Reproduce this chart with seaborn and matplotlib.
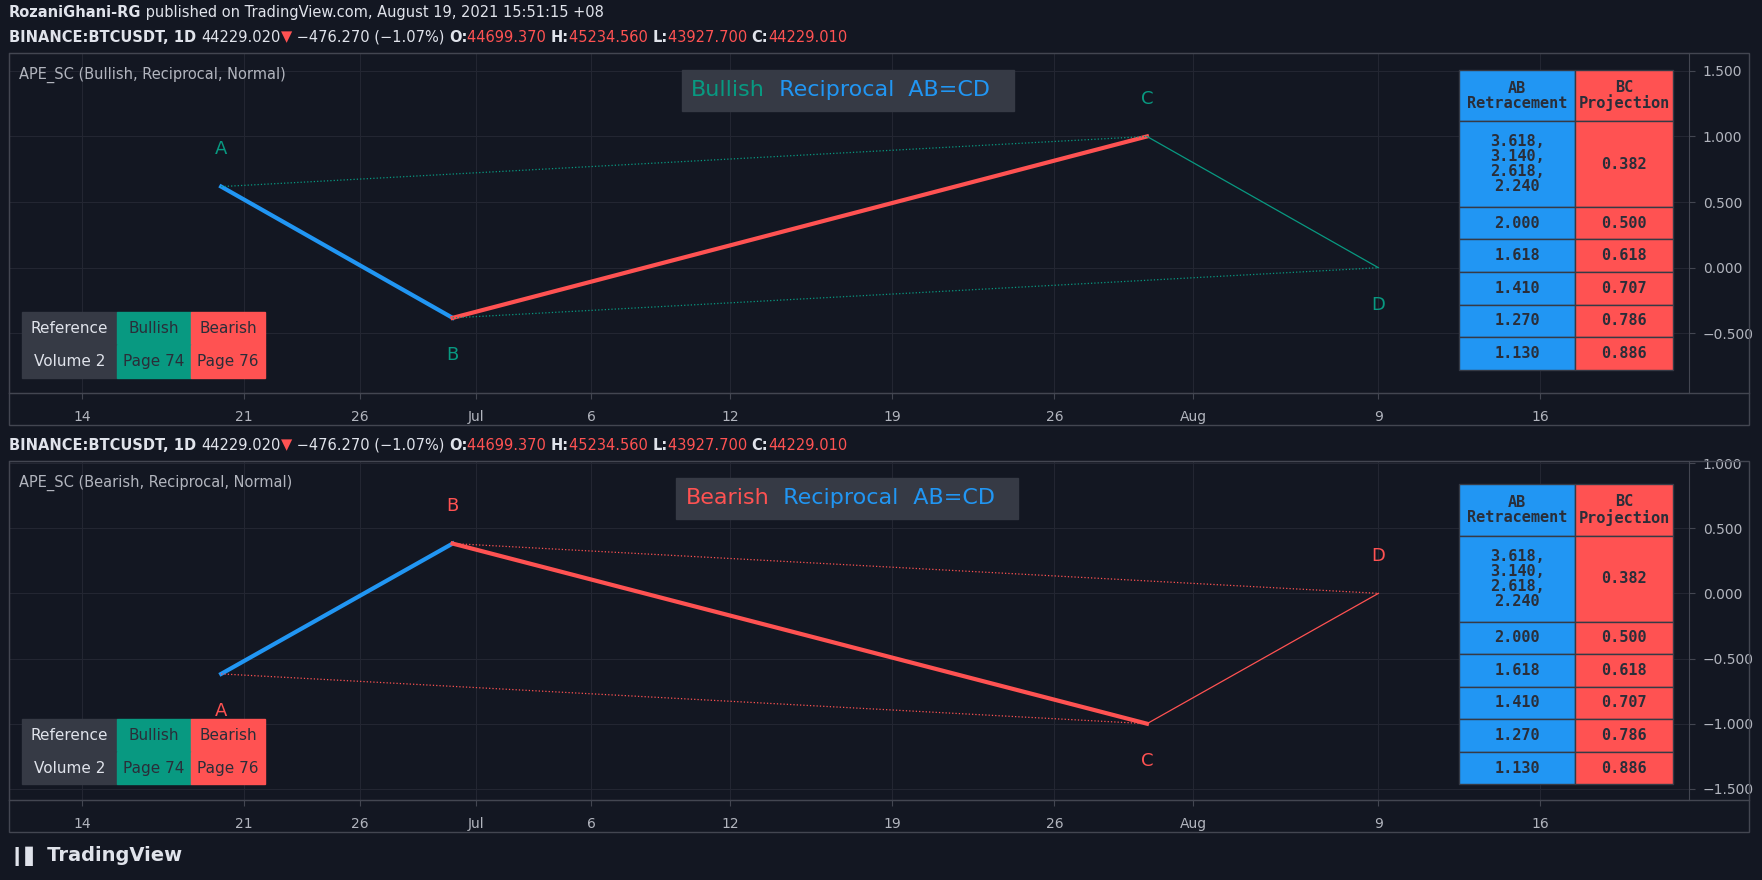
import pandas as pd
import numpy as np
import matplotlib
matplotlib.use("Agg")
import matplotlib.pyplot as plt
import seaborn as sns
from matplotlib.patches import Rectangle

# pattern points
point_names = ["A", "B", "C", "D"]
point_dates = pd.to_datetime(["2021-06-20", "2021-06-30", "2021-07-30", "2021-08-09"])
bull_values = [0.618, -0.382, 1.0, 0.0]
bear_values = [-0.618, 0.382, -1.0, 0.0]

tick_dates = pd.to_datetime(["2021-06-14", "2021-06-21", "2021-06-26", "2021-07-01", "2021-07-06",
                             "2021-07-12", "2021-07-19", "2021-07-26", "2021-08-01", "2021-08-09", "2021-08-16"])
tick_labels = ["14", "21", "26", "Jul", "6", "12", "19", "26", "Aug", "9", "16"]
top_yticks = [1.5, 1.0, 0.5, 0.0, -0.5]
bot_yticks = [1.0, 0.5, 0.0, -0.5, -1.0, -1.5]

ab_retr = ["3.618,\n3.140,\n2.618,\n2.240", "2.000", "1.618", "1.410", "1.270", "1.130"]
bc_proj = ["0.382", "0.500", "0.618", "0.707", "0.786", "0.886"]

BG = "#131722"
GRID = "#232632"
BORDER = "#434651"
TXT = "#b2b5be"
TEAL = "#089981"
BLUE = "#2196f3"
RED = "#ff5252"
GREY = "#363a45"

W, H = 1568.0, 783.0  # layout measured on the downscaled view

fig = plt.figure(figsize=(17.62, 8.8), dpi=100, facecolor=BG)
rend = fig.canvas.get_renderer()


def fx(x):
    return x / W


def fy(y):
    return 1 - y / H


def text_row(x, y, parts, size, gap=0.0):
    # draw consecutive text pieces, each starting where the previous ended
    for t, c, w in parts:
        tt = fig.text(x, y, t, color=c, fontsize=size, weight=w, va="center", zorder=6)
        x += tt.get_window_extent(renderer=rend).width / fig.bbox.width + gap


def box(x0, y0, x1, y1, color, text=None, tcolor="#2a2e39", size=11, mono=True, ec=None):
    fig.patches.append(Rectangle((fx(x0), fy(y1)), fx(x1) - fx(x0), fy(y0) - fy(y1),
                                 transform=fig.transFigure, facecolor=color,
                                 edgecolor=ec if ec else color, lw=1, zorder=5))
    if text is not None:
        fig.text(fx((x0 + x1) / 2), fy((y0 + y1) / 2), text, color=tcolor, fontsize=size,
                 ha="center", va="center", zorder=6, linespacing=1.0,
                 family="DejaVu Sans Mono" if mono else "DejaVu Sans",
                 weight="semibold" if mono else "normal")


def pane(top, bottom, ylim, yticks, values, main_col, name, table_top):
    ax = fig.add_axes([fx(8), fy(bottom - 28), fx(1503) - fx(8), fy(top) - fy(bottom - 28)])
    ax.set_facecolor(BG)
    df = pd.DataFrame({"date": point_dates, "value": values, "name": point_names})
    sns.lineplot(data=df.iloc[0:2], x="date", y="value", color=BLUE, lw=3, ax=ax)
    sns.lineplot(data=df.iloc[1:3], x="date", y="value", color=RED, lw=3, ax=ax)
    sns.lineplot(data=df.iloc[2:4], x="date", y="value", color=main_col, lw=0.9, ax=ax)
    sns.lineplot(data=df.iloc[[0, 2]], x="date", y="value", color=main_col, lw=0.9, ls=":", ax=ax)
    sns.lineplot(data=df.iloc[[1, 3]], x="date", y="value", color=main_col, lw=0.9, ls=":", ax=ax)
    span = ylim[1] - ylim[0]
    for i, r in df.iterrows():
        up = (i % 2 == 0) if values[0] > values[1] else (i % 2 == 1)
        off = 0.11 * span if up else -0.11 * span
        ax.text(r["date"], r["value"] + off, r["name"], color=main_col, fontsize=13,
                ha="center", va="center")
    ax.set_xlim(pd.Timestamp("2021-06-10 20:00"), pd.Timestamp("2021-08-22 10:00"))
    ax.set_ylim(*ylim)
    ax.set_xticks(tick_dates)
    ax.set_xticklabels(tick_labels)
    ax.set_yticks(yticks)
    ax.set_yticklabels([f"{v:.3f}".replace("-", "\u2212") for v in yticks])
    ax.yaxis.tick_right()
    ax.tick_params(colors=TXT, labelsize=10, length=4, color=BORDER)
    ax.tick_params(axis="y", pad=6)
    ax.tick_params(axis="x", pad=8)
    ax.grid(True, color=GRID, lw=0.8)
    ax.set_xlabel("")
    ax.set_ylabel("")
    for s in ax.spines.values():
        s.set_color(BORDER)
    ax.text(0.006, 0.96, f"APE_SC ({name}, Reciprocal, Normal)", transform=ax.transAxes,
            color=TXT, fontsize=10.5, va="top")
    # outer pane frame
    fig.patches.append(Rectangle((fx(8), fy(bottom)), fx(1556) - fx(8), fy(top) - fy(bottom),
                                 transform=fig.transFigure, fill=False, edgecolor=BORDER, lw=1))
    fig.lines.append(plt.Line2D([fx(8), fx(1556)], [fy(bottom - 28)] * 2, transform=fig.transFigure,
                                color=BORDER, lw=1))
    # title box
    tb0 = top + 15
    bx0, bx1 = (607, 902) if name == "Bullish" else (602, 906)
    box(bx0, tb0, bx1, tb0 + 37, GREY)
    words = [(name, TEAL if name == "Bullish" else RED), ("  Reciprocal", BLUE), ("  AB=CD", BLUE)]
    text_row(fx(bx0 + 8), fy(tb0 + 18.5), [(w, c, "normal") for w, c in words], 16)
    # right table
    y = table_top
    box(1298, y, 1402, y + 46, BLUE, "AB\nRetracement", ec=GREY)
    box(1402, y, 1489, y + 46, RED, "BC\nProjection", ec=GREY)
    y += 46
    for k, (a, b) in enumerate(zip(ab_retr, bc_proj)):
        h = 76 if k == 0 else 29
        box(1298, y, 1402, y + h, BLUE, a, ec=GREY)
        box(1402, y, 1489, y + h, RED, b, ec=GREY)
        y += h
    # left reference table
    ly = bottom - 100
    box(20, ly, 104, ly + 29, GREY, "Reference", tcolor="#e0e3eb", mono=False, size=11)
    box(104, ly, 170, ly + 29, TEAL, "Bullish", tcolor="#2a2e39", mono=False, size=11)
    box(170, ly, 236, ly + 29, RED, "Bearish", tcolor="#2a2e39", mono=False, size=11)
    box(20, ly + 29, 104, ly + 58, GREY, "Volume 2", tcolor="#e0e3eb", mono=False, size=11)
    box(104, ly + 29, 170, ly + 58, TEAL, "Page 74", tcolor="#2a2e39", mono=False, size=11)
    box(170, ly + 29, 236, ly + 58, RED, "Page 76", tcolor="#2a2e39", mono=False, size=11)
    return ax


pane(47, 378, (-0.957, 1.637), top_yticks, bull_values, TEAL, "Bullish", 62)
pane(410, 740, (-1.587, 1.017), bot_yticks, bear_values, RED, "Bearish", 431)

WH = "#e0e3eb"
quote = [("BINANCE:BTCUSDT, 1D ", WH, "bold"), ("44229.020", WH, "normal"),
         ("\u25bc", RED, "normal"), (" \u2212476.270 (\u22121.07%) ", WH, "normal"),
         ("O:", WH, "bold"), ("44699.370 ", RED, "normal"),
         ("H:", WH, "bold"), ("45234.560 ", RED, "normal"),
         ("L:", WH, "bold"), ("43927.700 ", RED, "normal"),
         ("C:", WH, "bold"), ("44229.010", RED, "normal")]

text_row(fx(8), fy(11), [("RozaniGhani-RG", WH, "bold"),
                         (" published on TradingView.com, August 19, 2021 15:51:15 +08", WH, "normal")], 10.5)
text_row(fx(8), fy(33), quote, 10.5)
text_row(fx(8), fy(396), quote, 10.5)
fig.text(fx(8), fy(762), "\u2759\u258c TradingView", color=WH, fontsize=14, weight="bold", va="center")

fig.savefig("out.png", dpi=100, facecolor=BG)
